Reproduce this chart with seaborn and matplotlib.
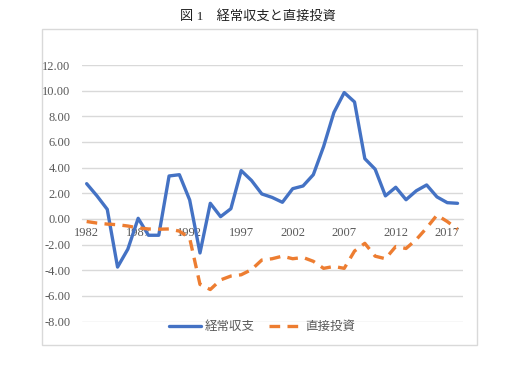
import numpy as np
import pandas as pd
import matplotlib
matplotlib.use("Agg")
import matplotlib.pyplot as plt
import seaborn as sns
from matplotlib.patches import Rectangle

# data
years = list(range(1982, 2019))
current_account = [2.75, 1.8, 0.75, -3.75, -2.35, 0.05, -1.27, -1.27, 3.35, 3.45,
                   1.48, -2.65, 1.22, 0.18, 0.8, 3.77, 3.0, 1.95, 1.68, 1.3,
                   2.36, 2.57, 3.45, 5.65, 8.3, 9.85, 9.12, 4.7, 3.88, 1.8,
                   2.47, 1.5, 2.2, 2.65, 1.72, 1.27, 1.22]
direct_investment = [-0.2, -0.32, -0.4, -0.45, -0.55, -0.7, -0.78, -0.8, -0.78, -0.95,
                     -1.5, -5.1, -5.5, -4.75, -4.45, -4.35, -3.95, -3.2, -3.1, -2.9,
                     -3.1, -3.0, -3.3, -3.85, -3.7, -3.85, -2.5, -1.9, -2.9, -3.1,
                     -2.15, -2.3, -1.6, -0.7, 0.3, -0.2, -0.8]
series_names = ["経常収支", "直接投資"]
title = "図 1　経常収支と直接投資"

sns.set_style("white")
plt.rcParams['font.family'] = ['Liberation Serif', 'Noto Sans CJK JP']
plt.rcParams['axes.unicode_minus'] = False

df = pd.DataFrame({
    "idx": np.arange(len(years)),
    series_names[0]: current_account,
    series_names[1]: direct_investment,
})

fig = plt.figure(figsize=(5.13, 3.67), dpi=100)
ax = fig.add_axes([81.5 / 513, (367 - 321.6) / 367, (462.7 - 81.5) / 513, (321.6 - 65) / 367])

# outer chart frame
fig.patches.append(Rectangle((42 / 513, 22 / 367), 435 / 513, 316 / 367,
                             transform=fig.transFigure, fill=False,
                             edgecolor="#d9d9d9", linewidth=1.0))

ax.set_ylim(-8, 12)
ax.set_xlim(-0.5, len(years) - 0.5)
yt = np.arange(-8, 13, 2)
ax.set_yticks(yt)
ax.set_yticklabels([f"{v:.2f}" for v in yt])
ax.yaxis.grid(True, color="#d9d9d9", linewidth=1.0)
ax.set_axisbelow(True)

sns.lineplot(data=df, x="idx", y=series_names[0], ax=ax, color="#4472C4",
             linewidth=2.4, label=series_names[0])
sns.lineplot(data=df, x="idx", y=series_names[1], ax=ax, color="#ED7D31",
             linewidth=2.4, linestyle=(0, (3.2, 2.2)), label=series_names[1])

xt = np.arange(0, len(years), 5)
ax.set_xticks(xt)
ax.set_xticklabels([str(years[i]) for i in xt])
ax.set_xlabel("")
ax.set_ylabel("")

for s in ["top", "right", "left"]:
    ax.spines[s].set_visible(False)
ax.spines["bottom"].set_position(("data", 0))
ax.spines["bottom"].set_color("#d9d9d9")
ax.spines["bottom"].set_zorder(0)
ax.tick_params(axis="both", length=0, labelsize=9, labelcolor="#595959")
ax.tick_params(axis="y", pad=8)
ax.tick_params(axis="x", pad=6)

ax.get_legend().remove()
handles, labels = ax.get_legend_handles_labels()
fig.legend(handles, labels, loc="center", bbox_to_anchor=(262 / 513, 40 / 367),
           ncol=2, frameon=False, fontsize=9, labelcolor="#595959",
           handlelength=2.6, columnspacing=1.1, handletextpad=0.3)

fig.text(258 / 513, 1 - 16 / 367, title, ha="center", va="center",
         fontsize=9.5, color="#222222")

fig.savefig("out.png", dpi=100)
